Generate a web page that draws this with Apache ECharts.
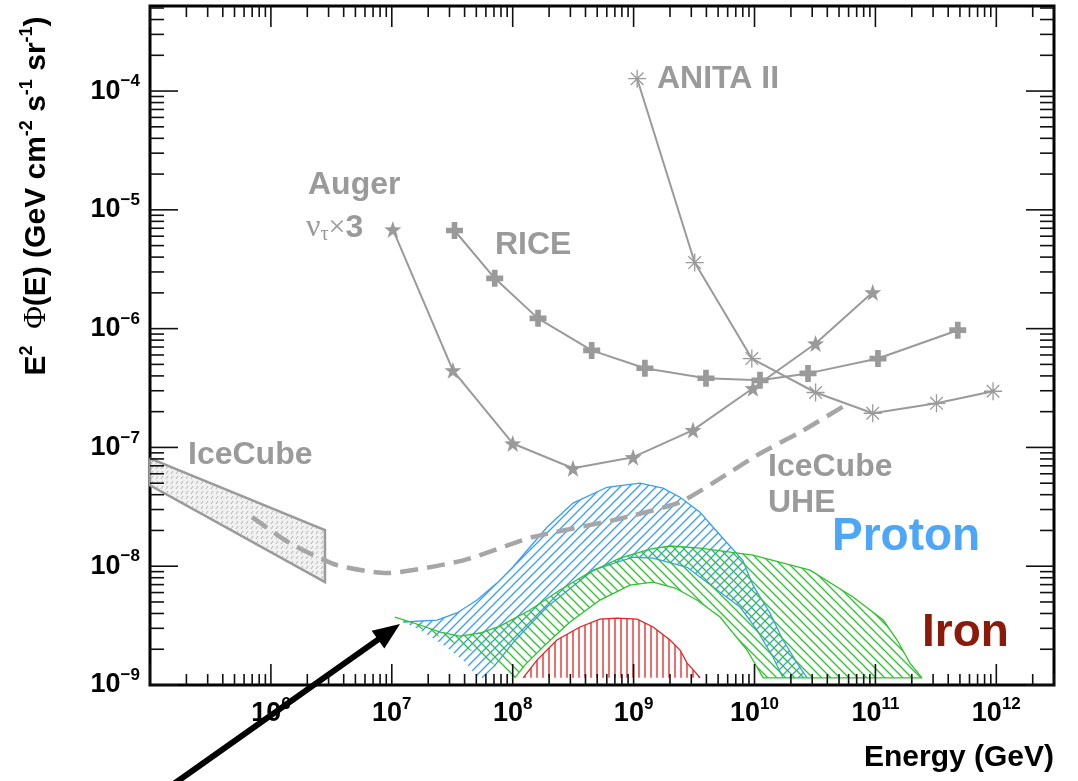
<!DOCTYPE html>
<html><head><meta charset="utf-8">
<script src="https://cdn.jsdelivr.net/npm/echarts@6/dist/echarts.min.js"></script>
<style>html,body{margin:0;padding:0;background:#fff;}#c{width:1078px;height:781px;}</style>
</head><body><div id="c"></div>
<script>
// ---------- axis ranges & tick labels ----------
const xRange = [1e5, 3e12];
const yRange = [1e-9, 5.2e-4];
const xTickExps = [6, 7, 8, 9, 10, 11, 12];
const yTickExps = [-9, -8, -7, -6, -5, -4];

// ---------- experiment limits ----------
const anitaE = [1.07e9, 3.2e9, 9.5e9, 3.2e10, 9.5e10, 3.2e11, 9.4e11];
const anitaF = [1.27e-4, 3.6e-6, 5.6e-7, 2.9e-7, 1.94e-7, 2.35e-7, 2.97e-7];

const augerE = [1.02e7, 3.2e7, 1.0e8, 3.15e8, 9.9e8, 3.1e9, 9.7e9, 3.2e10, 9.5e10];
const augerF = [6.84e-6, 4.46e-7, 1.08e-7, 6.68e-8, 8.28e-8, 1.40e-7, 3.15e-7, 7.5e-7, 2.02e-6];

const riceE = [3.3e7, 7.1e7, 1.62e8, 4.5e8, 1.24e9, 3.97e9, 1.11e10, 2.77e10, 1.05e11, 4.8e11];
const riceF = [6.7e-6, 2.65e-6, 1.22e-6, 6.56e-7, 4.64e-7, 3.82e-7, 3.67e-7, 4.2e-7, 5.6e-7, 9.7e-7];

const uheE = [7.0e5, 1.44e6, 3.52e6, 9.1e6, 3.9e7, 1.47e8, 6.8e8, 2.42e9, 6.3e9, 1.11e10, 2.38e10, 5.6e10];
const uheF = [2.59e-8, 1.56e-8, 1.02e-8, 8.75e-9, 1.12e-8, 1.76e-8, 2.44e-8, 3.46e-8, 6.2e-8, 8.9e-8, 1.34e-7, 2.26e-7];

const iceBoxE = [1e5, 2.8e6, 2.8e6, 1e5];
const iceBoxF = [8.1e-8, 2.01e-8, 7.35e-9, 4.8e-8];

// ---------- model bands ----------
const protonMaxE = [1.24e7, 2.37e7, 3.46e7, 5.07e7, 7.41e7, 1.0e8, 1.39e8, 1.92e8, 3.15e8, 6.03e8, 1.13e9, 1.75e9, 2.42e9, 3.54e9, 4.54e9, 8.0e9, 9.7e9, 1.34e10, 1.72e10, 2.25e10, 2.72e10];
const protonMaxF = [3.39e-9, 3.52e-9, 4.04e-9, 5.19e-9, 7.21e-9, 9.8e-9, 1.45e-8, 2.13e-8, 3.40e-8, 4.62e-8, 5.0e-8, 4.54e-8, 3.81e-8, 2.85e-8, 2.13e-8, 1.12e-8, 6.93e-9, 4.04e-9, 2.39e-9, 1.53e-9, 1.15e-9];
const protonMinE = [1.24e7, 1.71e7, 2.75e7, 4.03e7, 5.16e7, 5.57e7, 7.15e7, 1.05e8, 1.92e8, 4.62e8, 9.9e8, 1.45e9, 2.77e9, 4.54e9, 7.59e9, 1.05e10, 1.42e10, 1.72e10];
const protonMinF = [3.39e-9, 2.9e-9, 2.13e-9, 1.56e-9, 1.15e-9, 1.15e-9, 1.47e-9, 2.39e-9, 4.53e-9, 9.27e-9, 1.19e-8, 1.17e-8, 9.8e-9, 6.67e-9, 4.53e-9, 2.9e-9, 1.72e-9, 1.15e-9];

const ironMixMaxE = [1.06e7, 1.71e7, 2.51e7, 3.67e7, 5.37e7, 7.85e7, 1.39e8, 2.46e8, 4.36e8, 7.72e8, 1.37e9, 2.0e9, 3.54e9, 9.7e9, 2.88e10, 6.53e10, 1.16e11, 1.51e11, 1.93e11, 2.43e11];
const ironMixMaxF = [3.73e-9, 3.2e-9, 2.79e-9, 2.58e-9, 2.74e-9, 3.13e-9, 4.28e-9, 6.3e-9, 8.91e-9, 1.17e-8, 1.39e-8, 1.48e-8, 1.42e-8, 1.24e-8, 9.27e-9, 5.5e-9, 3.52e-9, 2.39e-9, 1.53e-9, 1.15e-9];
const ironMixMinE = [1.06e7, 1.71e7, 3.03e7, 5.37e7, 1.0e8, 1.04e8, 1.26e8, 1.85e8, 2.98e8, 5.27e8, 9.33e8, 1.45e9, 2.2e9, 3.34e9, 5.19e9, 8.67e9, 1.18e10];
const ironMixMinF = [3.73e-9, 3.01e-9, 2.34e-9, 1.79e-9, 1.15e-9, 1.15e-9, 1.47e-9, 2.17e-9, 3.39e-9, 5.19e-9, 6.93e-9, 7.35e-9, 6.55e-9, 5.19e-9, 3.73e-9, 1.97e-9, 1.15e-9];

const ironE = [1.22e8, 1.59e8, 2.32e8, 3.6e8, 5.27e8, 7.29e8, 1.07e9, 1.45e9, 2.0e9, 2.42e9, 2.77e9, 3.22e9, 3.54e9];
const ironF = [1.15e-9, 1.62e-9, 2.39e-9, 3.08e-9, 3.59e-9, 3.66e-9, 3.59e-9, 3.08e-9, 2.39e-9, 1.97e-9, 1.53e-9, 1.29e-9, 1.15e-9];

// annotation arrow (tail outside the frame, tip at start of the bands)
const arrowE = [1.5e5, 1.17e7];
const arrowF = [1.42e-10, 3.26e-9];

// ---------- helpers ----------
const L = Math.log10;
function pts(E, F) { return E.map((e, i) => [L(e), L(F[i])]); }
const GRAY = '#9a9a9a';
const SANS = '"Liberation Sans", Arial, Helvetica, sans-serif';
const SERIF = '"Liberation Serif", "Times New Roman", serif';

function hatch(color, type, s, lw, bg) {
  const c = document.createElement('canvas');
  c.width = s; c.height = s;
  const g = c.getContext('2d');
  if (bg) { g.fillStyle = bg; g.fillRect(0, 0, s, s); }
  g.strokeStyle = color; g.lineWidth = lw;
  g.beginPath();
  if (type === '/') {
    g.moveTo(-1, s + 1); g.lineTo(s + 1, -1);
    g.moveTo(-1, 1); g.lineTo(1, -1);
    g.moveTo(s - 1, s + 1); g.lineTo(s + 1, s - 1);
  } else if (type === '\\') {
    g.moveTo(-1, -1); g.lineTo(s + 1, s + 1);
    g.moveTo(s - 1, -1); g.lineTo(s + 1, 1);
    g.moveTo(-1, s - 1); g.lineTo(1, s + 1);
  } else if (type === '|') {
    g.moveTo(s / 2, 0); g.lineTo(s / 2, s);
  } else if (type === 'dash') {
    g.moveTo(1, 4); g.lineTo(3, 1);
  }
  g.stroke();
  return { image: c, repeat: 'repeat' };
}

const bluePat = hatch('#3a9cf5', '/', 9, 1.3);
const greenPat = hatch('#2cc42c', '\\', 9, 1.3);
const redPat = hatch('#e02424', '|', 6, 1.3);
const icePat = hatch('#b4b4b4', 'dash', 5, 1, '#f1f1f1');

function region(polygon, outlines, fill, stroke, lw, z) {
  return {
    type: 'custom', coordinateSystem: 'cartesian2d', silent: true, z: z,
    data: [[6, -6]],
    renderItem: function (params, api) {
      const children = [{
        type: 'polygon', shape: { points: polygon.map(p => api.coord(p)) },
        style: { fill: fill, stroke: null }
      }];
      outlines.forEach(o => children.push({
        type: 'polyline', shape: { points: o.map(p => api.coord(p)) },
        style: { fill: 'none', stroke: stroke, lineWidth: lw }
      }));
      return { type: 'group', children: children };
    }
  };
}

// polygons
const pMax = pts(protonMaxE, protonMaxF), pMin = pts(protonMinE, protonMinF);
const protonPoly = pMax.concat(pMin.slice().reverse());
const gMax = pts(ironMixMaxE, ironMixMaxF), gMin = pts(ironMixMinE, ironMixMinF);
const greenPoly = gMax.concat(gMin.slice().reverse());
const rPts = pts(ironE, ironF);
const icePoly = pts(iceBoxE, iceBoxF);

// ticks series
function tickSeries() {
  const xl = [L(xRange[0]), L(xRange[1])], yl = [L(yRange[0]), L(yRange[1])];
  const xt = [], yt = [];
  for (let e = Math.floor(xl[0]); e <= Math.ceil(xl[1]); e++) {
    for (let m = 1; m <= 9; m++) {
      const v = e + L(m);
      if (v >= xl[0] - 1e-9 && v <= xl[1] + 1e-9) xt.push([v, m === 1]);
    }
  }
  for (let e = Math.floor(yl[0]); e <= Math.ceil(yl[1]); e++) {
    for (let m = 1; m <= 9; m++) {
      const v = e + L(m);
      if (v >= yl[0] - 1e-9 && v <= yl[1] + 1e-9) yt.push([v, m === 1]);
    }
  }
  return {
    type: 'custom', coordinateSystem: 'cartesian2d', silent: true, z: 10,
    data: [[6, -6]],
    renderItem: function (params, api) {
      const ch = [];
      const bl = api.coord([xl[0], yl[0]]), tr = api.coord([xl[1], yl[1]]);
      const st = { stroke: '#111', lineWidth: 1.6 };
      xt.forEach(t => {
        const x = api.coord([t[0], yl[0]])[0];
        const len = t[1] ? 21 : 11;
        ch.push({ type: 'line', shape: { x1: x, y1: bl[1], x2: x, y2: bl[1] - len }, style: st });
        ch.push({ type: 'line', shape: { x1: x, y1: tr[1], x2: x, y2: tr[1] + len }, style: st });
      });
      yt.forEach(t => {
        const y = api.coord([xl[0], t[0]])[1];
        const len = t[1] ? 28 : 14;
        ch.push({ type: 'line', shape: { x1: bl[0], y1: y, x2: bl[0] + len, y2: y }, style: st });
        ch.push({ type: 'line', shape: { x1: tr[0], y1: y, x2: tr[0] - len, y2: y }, style: st });
      });
      return { type: 'group', children: ch };
    }
  };
}

const isInt = v => Math.abs(v - Math.round(v)) < 1e-6;
const labRich = {
  b: { fontFamily: SANS, fontWeight: 'bold', fontSize: 27, color: '#000', lineHeight: 36 },
  s: { fontFamily: SANS, fontWeight: 'bold', fontSize: 17, color: '#000', lineHeight: 17, verticalAlign: 'top' }
};

const chart = echarts.init(document.getElementById('c'));
chart.setOption({
  animation: false,
  backgroundColor: '#fff',
  grid: { left: 150, right: 24, top: 6, bottom: 96, show: true, borderColor: '#000', borderWidth: 3, backgroundColor: 'transparent' },
  xAxis: {
    type: 'value', min: L(xRange[0]), max: L(xRange[1]), interval: 1,
    axisLine: { show: false }, axisTick: { show: false }, splitLine: { show: false },
    axisLabel: {
      margin: 11, rich: labRich,
      formatter: v => (isInt(v) && xTickExps.indexOf(Math.round(v)) >= 0) ? '{b|10}{s|' + Math.round(v) + '}' : ''
    }
  },
  yAxis: {
    type: 'value', min: L(yRange[0]), max: L(yRange[1]), interval: 1,
    axisLine: { show: false }, axisTick: { show: false }, splitLine: { show: false },
    axisLabel: {
      margin: 10, rich: labRich,
      formatter: v => (isInt(v) && yTickExps.indexOf(Math.round(v)) >= 0) ? '{b|10}{s|\u2212' + (-Math.round(v)) + '}' : ''
    }
  },
  graphic: [
    { type: 'text', x: 657, y: 79, style: { text: 'ANITA II', font: 'bold 32px ' + SANS, fill: GRAY, align: 'left', verticalAlign: 'middle' } },
    { type: 'text', x: 308, y: 185, style: { text: 'Auger', font: 'bold 32px ' + SANS, fill: GRAY, align: 'left', verticalAlign: 'middle' } },
    { type: 'text', x: 306, y: 228, style: {
        text: '{nu|\u03bd}{tau|\u03c4}{x|\u00d7}{n|3}', align: 'left', verticalAlign: 'middle', fill: GRAY,
        rich: {
          nu: { fontFamily: SERIF, fontSize: 32, fill: GRAY, lineHeight: 34 },
          tau: { fontFamily: SERIF, fontSize: 20, fill: GRAY, lineHeight: 20, verticalAlign: 'bottom' },
          x: { fontFamily: SERIF, fontSize: 30, fill: GRAY, lineHeight: 34 },
          n: { fontFamily: SANS, fontWeight: 'bold', fontSize: 32, fill: GRAY, lineHeight: 34 }
        } } },
    { type: 'text', x: 495, y: 245, style: { text: 'RICE', font: 'bold 32px ' + SANS, fill: GRAY, align: 'left', verticalAlign: 'middle' } },
    { type: 'text', x: 188, y: 455, style: { text: 'IceCube', font: 'bold 32px ' + SANS, fill: GRAY, align: 'left', verticalAlign: 'middle' } },
    { type: 'text', x: 768, y: 467, style: { text: 'IceCube', font: 'bold 32px ' + SANS, fill: GRAY, align: 'left', verticalAlign: 'middle' } },
    { type: 'text', x: 768, y: 503, style: { text: 'UHE', font: 'bold 32px ' + SANS, fill: GRAY, align: 'left', verticalAlign: 'middle' } },
    { type: 'text', x: 832, y: 537, style: { text: 'Proton', font: 'bold 46px ' + SANS, fill: '#4da6f7', align: 'left', verticalAlign: 'middle' } },
    { type: 'text', x: 922, y: 633, style: { text: 'Iron', font: 'bold 46px ' + SANS, fill: '#8b1a0a', align: 'left', verticalAlign: 'middle' } },
    { type: 'text', x: 1054, y: 758, style: { text: 'Energy (GeV)', font: 'bold 30px ' + SANS, fill: '#000', align: 'right', verticalAlign: 'middle' } },
    { type: 'text', x: 37, y: 196, rotation: Math.PI / 2, style: {
        text: '{m|E}{s|2}{m|  }{g|\u03a6}{m|(E) (GeV cm}{s|-2}{m| s}{s|-1}{m| sr}{s|-1}{m|)}',
        align: 'center', verticalAlign: 'middle', fill: '#000',
        rich: {
          m: { fontFamily: SANS, fontWeight: 'bold', fontSize: 30, fill: '#000', lineHeight: 38 },
          g: { fontFamily: SERIF, fontSize: 31, fill: '#000', lineHeight: 38 },
          s: { fontFamily: SANS, fontWeight: 'bold', fontSize: 18, fill: '#000', lineHeight: 20, verticalAlign: 'top' }
        } } }
  ],
  series: [
    region(icePoly, [icePoly.concat([icePoly[0]])], icePat, GRAY, 2.5, 1),
    region(protonPoly, [pMax, pMin.slice(5)], bluePat, '#3a9cf5', 1.3, 2),
    region(greenPoly, [gMax, gMin.slice(5).concat([gMax[gMax.length - 1]])], greenPat, '#2cc42c', 1.3, 3),
    region(rPts, [rPts], redPat, '#e02424', 1.3, 3),
    {
      type: 'line', data: pts(uheE, uheF), symbol: 'none', smooth: 0.2, silent: true, z: 4,
      lineStyle: { color: '#a6a6a6', width: 4.5, type: [18, 9] }
    },
    {
      type: 'line', data: pts(anitaE, anitaF), silent: true, z: 5,
      symbol: 'path://M0,-10V10M-10,0H10M-7,-7L7,7M-7,7L7,-7', symbolSize: 18,
      lineStyle: { color: GRAY, width: 2 }, itemStyle: { color: GRAY, borderColor: GRAY, borderWidth: 1.3 }
    },
    {
      type: 'line', data: pts(augerE, augerF), silent: true, z: 5,
      symbol: 'path://M0,-10L2.35,-3.24L9.51,-3.09L3.8,1.24L5.88,8.09L0,4L-5.88,8.09L-3.8,1.24L-9.51,-3.09L-2.35,-3.24Z', symbolSize: 17,
      lineStyle: { color: GRAY, width: 2 }, itemStyle: { color: GRAY, borderWidth: 0 }
    },
    {
      type: 'line', data: pts(riceE, riceF), silent: true, z: 5,
      symbol: 'path://M-3,-9H3V-3H9V3H3V9H-3V3H-9V-3H-3Z', symbolSize: 17,
      lineStyle: { color: GRAY, width: 2 }, itemStyle: { color: GRAY, borderWidth: 0 }
    },
    {
      type: 'custom', coordinateSystem: 'cartesian2d', silent: true, z: 8,
      data: [[L(arrowE[0]), L(arrowF[0]), L(arrowE[1]), L(arrowF[1])]],
      encode: { x: [0, 2], y: [1, 3] },
      renderItem: function (params, api) {
        const a = api.coord([api.value(0), api.value(1)]);
        const b = api.coord([api.value(2), api.value(3)]);
        const dx = b[0] - a[0], dy = b[1] - a[1], len = Math.hypot(dx, dy);
        const ux = dx / len, uy = dy / len, hl = 27, hw = 11;
        const base = [b[0] - ux * hl, b[1] - uy * hl];
        return {
          type: 'group', children: [
            { type: 'line', shape: { x1: a[0], y1: a[1], x2: base[0] + ux * 3, y2: base[1] + uy * 3 }, style: { stroke: '#000', lineWidth: 6 } },
            { type: 'polygon', shape: { points: [b, [base[0] - uy * hw, base[1] + ux * hw], [base[0] + uy * hw, base[1] - ux * hw]] }, style: { fill: '#000' } }
          ]
        };
      }
    },
    tickSeries()
  ]
});
</script></body></html>
